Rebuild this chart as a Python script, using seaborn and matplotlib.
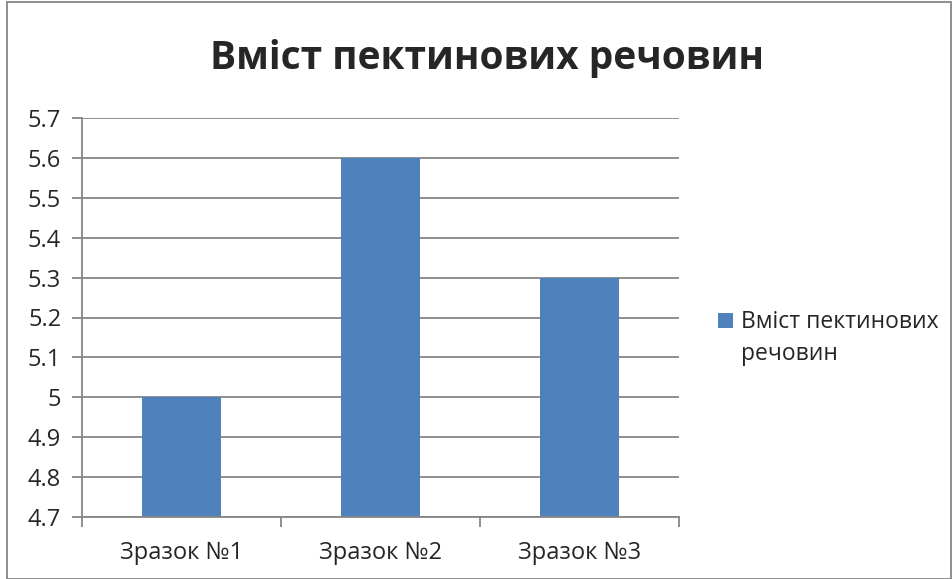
import matplotlib
matplotlib.use("Agg")
import matplotlib.pyplot as plt
import seaborn as sns
import pandas as pd
from matplotlib.patches import Rectangle

categories = ["Зразок №1", "Зразок №2", "Зразок №3"]
values = [5.0, 5.6, 5.3]
series_name = "Вміст пектинових речовин"
title = "Вміст пектинових речовин"
yticks = [4.7, 4.8, 4.9, 5.0, 5.1, 5.2, 5.3, 5.4, 5.5, 5.6, 5.7]
ytick_labels = ["4.7", "4.8", "4.9", "5", "5.1", "5.2", "5.3", "5.4", "5.5", "5.6", "5.7"]

sns.set_style("white")
plt.rcParams['font.family'] = ['Open Sans', 'DejaVu Sans']

df = pd.DataFrame({"cat": categories, "val": values})

fig = plt.figure(figsize=(9.53, 5.79), dpi=100)
ax = fig.add_axes([82/953, 1-517/579, (679-82)/953, (517-118)/579])

bar_color = "#4F81BD"
grid_color = "#868686"
sns.barplot(data=df, x="cat", y="val", color=bar_color, width=0.4, ax=ax,
            saturation=1, bottom=0, linewidth=0, edgecolor="none")
ax.set_ylim(4.7, 5.7)
ax.set_xlim(-0.5, 2.5)
ax.set_yticks(yticks)
ax.set_yticklabels(ytick_labels)
ax.set_xlabel("")
ax.set_ylabel("")
ax.yaxis.grid(True, color=grid_color, linewidth=1.3)
ax.set_axisbelow(True)
for s in ["top", "right"]:
    ax.spines[s].set_visible(False)
for s in ["left", "bottom"]:
    ax.spines[s].set_color(grid_color)
    ax.spines[s].set_linewidth(1.3)

ax.tick_params(axis="y", which="both", left=True, length=7, width=1.3, color=grid_color,
               labelsize=17, pad=8)
ax.set_xticks([0, 1, 2])
ax.set_xticklabels(categories)
ax.tick_params(axis="x", which="major", bottom=False, labelsize=17, pad=14)
ax.set_xticks([-0.5, 0.5, 1.5, 2.5], minor=True)
ax.tick_params(axis="x", which="minor", bottom=True, length=7, width=1.3, color=grid_color)

fig.text(487/953, 1-58/579, title, ha="center", va="center", fontsize=28, fontweight="bold")

# legend (manual, Excel-like wrapped label)
fig.patches.append(Rectangle((718/953, 1-328/579), 15/953, 15/579, transform=fig.transFigure,
                             facecolor=bar_color, edgecolor="none"))
legend_label = series_name.replace(" р", "\nр", 1)
fig.text(741/953, 1-338/579, legend_label, ha="left", va="center", fontsize=16.5,
         linespacing=1.5)

fig.patches.append(Rectangle((7/953, 0), (951-7)/953, 1-2/579, transform=fig.transFigure,
                             fill=False, edgecolor="#868686", linewidth=1.3))

fig.savefig("out.png", dpi=100)
